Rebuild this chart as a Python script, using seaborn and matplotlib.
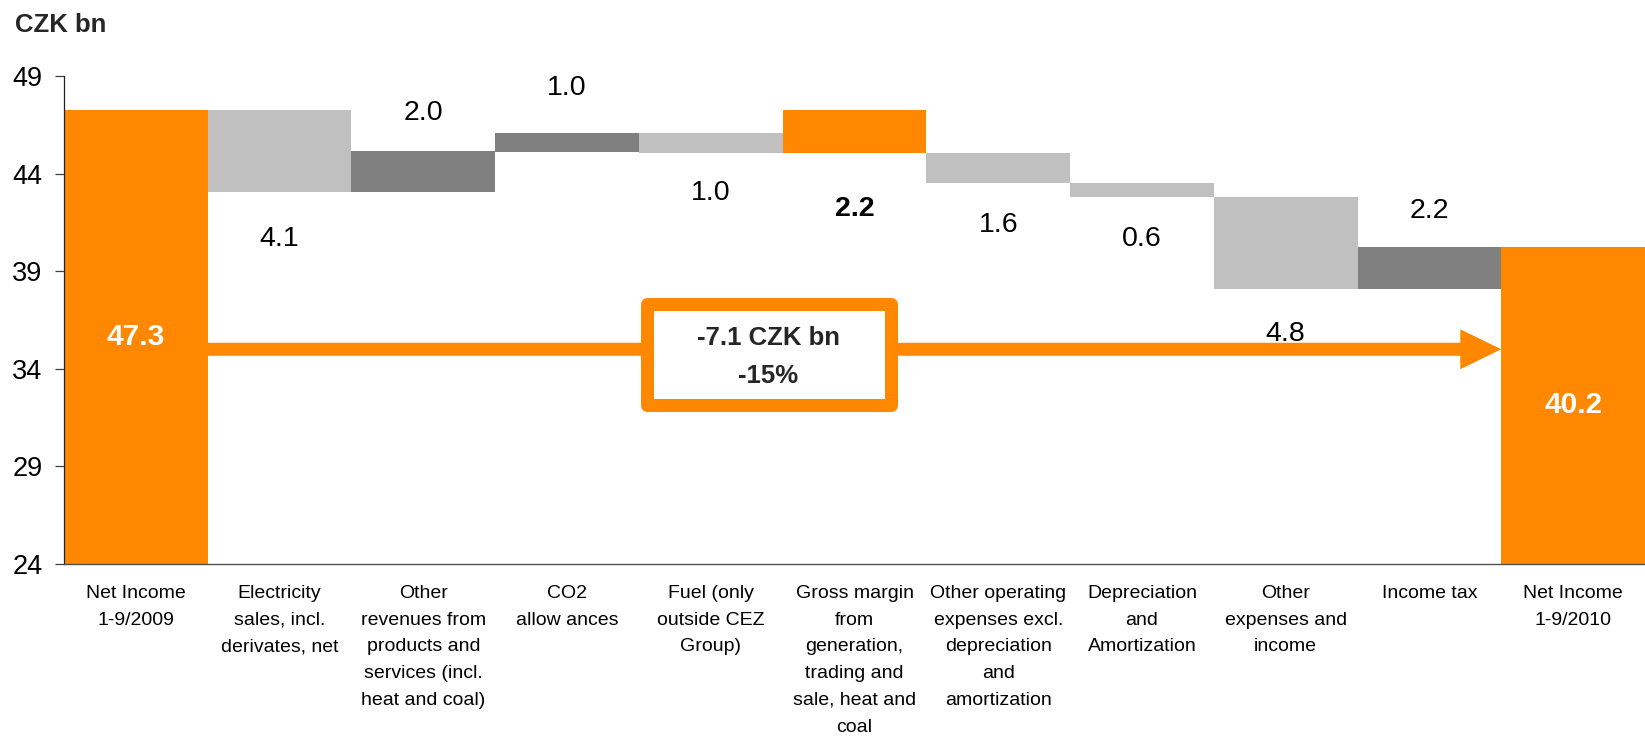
import matplotlib
matplotlib.use("Agg")
import matplotlib.pyplot as plt
from matplotlib.patches import Rectangle
import seaborn as sns
import pandas as pd

# ---------------- data ----------------
categories = [
    "Net Income\n1-9/2009",
    "Electricity\nsales, incl.\nderivates, net",
    "Other\nrevenues from\nproducts and\nservices (incl.\nheat and coal)",
    "CO2\nallow ances",
    "Fuel (only\noutside CEZ\nGroup)",
    "Gross margin\nfrom\ngeneration,\ntrading and\nsale, heat and\ncoal",
    "Other operating\nexpenses excl.\ndepreciation\nand\namortization",
    "Depreciation\nand\nAmortization",
    "Other\nexpenses and\nincome",
    "Income tax",
    "Net Income\n1-9/2010",
]
bar_bottom = [24.0, 43.07, 43.07, 45.13, 45.05, 45.05, 43.50, 42.82, 38.10, 38.10, 24.0]
bar_top = [47.27, 47.27, 45.15, 46.10, 46.10, 47.27, 45.06, 43.50, 42.82, 40.26, 40.26]
value_labels = ["47.3", "4.1", "2.0", "1.0", "1.0", "2.2", "1.6", "0.6", "4.8", "2.2", "40.2"]
label_place = ["inside", "below", "above", "above", "below", "below",
               "below", "below", "below", "above", "inside"]
bar_kind = ["total", "down", "up", "up", "down", "total",
            "down", "down", "down", "up", "total"]
y_ticks = [24, 29, 34, 39, 44, 49]
change_text = ["-7.1 CZK bn", "-15%"]
arrow_level = 35.0

# ---------------- styling / layout ----------------
ORANGE = "#FF8800"
LIGHT = "#C0C0C0"
DARK = "#808080"
kind_color = {"total": ORANGE, "down": LIGHT, "up": DARK}
# pixel distance from the bar edge to the label centre
label_gap_px = [0, 44, 41, 48, 37, 53, 39, 39, 42, 39, 0]

sns.set_theme(style="white")
plt.rcParams["font.family"] = ["Liberation Sans", "DejaVu Sans"]

W, H = 1645, 739
fig = plt.figure(figsize=(W / 100, H / 100), dpi=100)
ax = fig.add_axes([64 / W, (H - 564) / H, (1645 - 64) / W, (564 - 76) / H])

df = pd.DataFrame({
    "category": categories,
    "height": [t - b for t, b in zip(bar_top, bar_bottom)],
})
palette = {c: kind_color[k] for c, k in zip(categories, bar_kind)}
sns.barplot(data=df, x="category", y="height", hue="category", palette=palette,
            order=categories, hue_order=categories, width=1.0, errorbar=None,
            saturation=1, legend=False, linewidth=0, ax=ax)
for patch, b in zip(ax.patches, bar_bottom):
    patch.set_y(b)

ax.set_ylim(24, 49)
ax.set_xlim(-0.5, len(categories) - 0.5)
ax.set_yticks(y_ticks)
ax.set_yticklabels([str(t) for t in y_ticks])
ax.set_xticks(range(len(categories)))
ax.set_xticklabels(categories, linespacing=1.75, multialignment="center")
ax.set_xlabel("")
ax.set_ylabel("")

for s in ["top", "right"]:
    ax.spines[s].set_visible(False)
ax.spines["left"].set_color("#202020")
ax.spines["left"].set_linewidth(0.9)
ax.spines["bottom"].set_color("#505050")
ax.spines["bottom"].set_linewidth(1.0)

ax.tick_params(axis="y", direction="out", length=9 * 0.72, width=0.9, color="#404040",
               left=True, labelsize=19.5, pad=9, labelcolor="black")
ax.tick_params(axis="x", length=0, labelsize=14, pad=15, labelcolor="black")
for lbl in ax.get_xticklabels():
    lbl.set_linespacing(1.75)
    lbl.set_multialignment("center")

# value labels
for i, (txt, place) in enumerate(zip(value_labels, label_place)):
    if place == "inside":
        ax.text(i, (bar_bottom[i] + bar_top[i]) / 2, txt, ha="center", va="center",
                color="white", fontsize=21.5, fontweight="bold")
        continue
    bold = bar_kind[i] == "total"
    if place == "above":
        anchor, dy = bar_top[i], label_gap_px[i] - 3
    else:
        anchor, dy = bar_bottom[i], -label_gap_px[i] - 3
    ax.annotate(txt, (i, anchor), xytext=(0, dy), textcoords="offset pixels",
                ha="center", va="center", fontsize=20.5, color="black",
                fontweight="bold" if bold else "normal")

# arrow from first total to last total
px_x = (1645 - 64) / len(categories)
px_y = (564 - 76) / 25
ax.arrow(0.5, arrow_level, (len(categories) - 1.5) - 0.5, 0,
         width=13 / px_y, head_width=40 / px_y, head_length=41 / px_x,
         length_includes_head=True, color=ORANGE, lw=0, zorder=3)

# change box
bx0, bx1 = (646.5 - 64) / px_x - 0.5, (890.5 - 64) / px_x - 0.5
by0, by1 = 24 + (564 - 405.5) / px_y, 24 + (564 - 303.5) / px_y
ax.add_patch(Rectangle((bx0, by0), bx1 - bx0, by1 - by0, facecolor="white",
                       edgecolor=ORANGE, lw=13 * 0.72, joinstyle="round", zorder=4))
cx, cy = (bx0 + bx1) / 2, (by0 + by1) / 2
ax.annotate(change_text[0], (cx, cy), xytext=(0, 16), textcoords="offset pixels",
            ha="center", va="center", fontsize=18.5, fontweight="bold", zorder=5)
ax.annotate(change_text[1], (cx, cy), xytext=(0, -22), textcoords="offset pixels",
            ha="center", va="center", fontsize=18.5, fontweight="bold", zorder=5)

fig.text(15 / W, 1 - 32 / H, "CZK bn", fontsize=18.5, fontweight="bold",
         ha="left", va="baseline")

fig.savefig("out.png", dpi=100)
